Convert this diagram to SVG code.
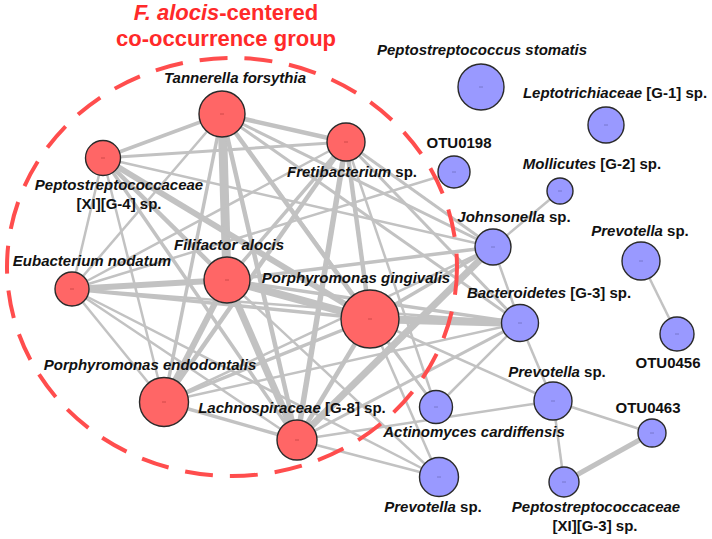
<svg xmlns="http://www.w3.org/2000/svg" width="712" height="539" viewBox="0 0 712 539">
<style>
.e{stroke:#c2c2c2;stroke-linecap:butt;fill:none}
.r circle{fill:#ff6666;stroke:#2a2a2a;stroke-width:1.4}
.b circle{fill:#9999ff;stroke:#2a2a2a;stroke-width:1.4}
.r path{stroke:#d04848;stroke-width:1}
.b path{stroke:#7777cc;stroke-width:1}
text{font-family:"Liberation Sans",Arial,sans-serif;font-weight:bold;font-size:15px;fill:#111;text-anchor:middle}
.i{font-style:italic}
.title{font-size:22px;fill:#ff2a2a}
</style>
<rect width="712" height="539" fill="#fff"/>
<g id="connectors">
<line class="e" x1="222" y1="114" x2="103" y2="158" stroke-width="3.5"/>
<line class="e" x1="222" y1="114" x2="346" y2="142" stroke-width="4.5"/>
<line class="e" x1="222" y1="114" x2="72" y2="289" stroke-width="2.5"/>
<line class="e" x1="222" y1="114" x2="227" y2="280" stroke-width="9"/>
<line class="e" x1="222" y1="114" x2="370" y2="319" stroke-width="4.5"/>
<line class="e" x1="222" y1="114" x2="164" y2="402" stroke-width="3.5"/>
<line class="e" x1="222" y1="114" x2="297" y2="440" stroke-width="4.5"/>
<line class="e" x1="222" y1="114" x2="493" y2="247" stroke-width="3"/>
<line class="e" x1="222" y1="114" x2="520" y2="323" stroke-width="3"/>
<line class="e" x1="222" y1="114" x2="436" y2="407" stroke-width="2.5"/>
<line class="e" x1="103" y1="158" x2="346" y2="142" stroke-width="3"/>
<line class="e" x1="103" y1="158" x2="72" y2="289" stroke-width="2.5"/>
<line class="e" x1="103" y1="158" x2="227" y2="280" stroke-width="4.5"/>
<line class="e" x1="103" y1="158" x2="370" y2="319" stroke-width="6"/>
<line class="e" x1="103" y1="158" x2="164" y2="402" stroke-width="2.5"/>
<line class="e" x1="103" y1="158" x2="297" y2="440" stroke-width="3.5"/>
<line class="e" x1="103" y1="158" x2="493" y2="247" stroke-width="2.5"/>
<line class="e" x1="346" y1="142" x2="72" y2="289" stroke-width="2.5"/>
<line class="e" x1="346" y1="142" x2="227" y2="280" stroke-width="3.5"/>
<line class="e" x1="346" y1="142" x2="370" y2="319" stroke-width="4.5"/>
<line class="e" x1="346" y1="142" x2="164" y2="402" stroke-width="4.5"/>
<line class="e" x1="346" y1="142" x2="297" y2="440" stroke-width="5.5"/>
<line class="e" x1="346" y1="142" x2="493" y2="247" stroke-width="3"/>
<line class="e" x1="346" y1="142" x2="520" y2="323" stroke-width="3"/>
<line class="e" x1="346" y1="142" x2="436" y2="407" stroke-width="2.5"/>
<line class="e" x1="72" y1="289" x2="227" y2="280" stroke-width="6"/>
<line class="e" x1="72" y1="289" x2="370" y2="319" stroke-width="3.5"/>
<line class="e" x1="72" y1="289" x2="164" y2="402" stroke-width="2.5"/>
<line class="e" x1="72" y1="289" x2="297" y2="440" stroke-width="2.5"/>
<line class="e" x1="72" y1="289" x2="520" y2="323" stroke-width="2.5"/>
<line class="e" x1="72" y1="289" x2="439" y2="477" stroke-width="2.5"/>
<line class="e" x1="227" y1="280" x2="370" y2="319" stroke-width="8"/>
<line class="e" x1="227" y1="280" x2="164" y2="402" stroke-width="6"/>
<line class="e" x1="227" y1="280" x2="297" y2="440" stroke-width="7"/>
<line class="e" x1="227" y1="280" x2="493" y2="247" stroke-width="3.5"/>
<line class="e" x1="227" y1="280" x2="520" y2="323" stroke-width="3.5"/>
<line class="e" x1="227" y1="280" x2="439" y2="477" stroke-width="2.5"/>
<line class="e" x1="370" y1="319" x2="164" y2="402" stroke-width="3.5"/>
<line class="e" x1="370" y1="319" x2="297" y2="440" stroke-width="4.5"/>
<line class="e" x1="370" y1="319" x2="493" y2="247" stroke-width="3.5"/>
<line class="e" x1="370" y1="319" x2="520" y2="323" stroke-width="8"/>
<line class="e" x1="370" y1="319" x2="436" y2="407" stroke-width="2.5"/>
<line class="e" x1="370" y1="319" x2="553" y2="401" stroke-width="2.5"/>
<line class="e" x1="370" y1="319" x2="439" y2="477" stroke-width="2.5"/>
<line class="e" x1="164" y1="402" x2="297" y2="440" stroke-width="3.5"/>
<line class="e" x1="164" y1="402" x2="493" y2="247" stroke-width="2.5"/>
<line class="e" x1="164" y1="402" x2="520" y2="323" stroke-width="2.5"/>
<line class="e" x1="297" y1="440" x2="493" y2="247" stroke-width="7"/>
<line class="e" x1="297" y1="440" x2="520" y2="323" stroke-width="3"/>
<line class="e" x1="297" y1="440" x2="553" y2="401" stroke-width="2.5"/>
<line class="e" x1="297" y1="440" x2="439" y2="477" stroke-width="2.5"/>
<line class="e" x1="454" y1="172" x2="72" y2="289" stroke-width="2.5"/>
<line class="e" x1="560" y1="191" x2="493" y2="247" stroke-width="2.5"/>
<line class="e" x1="493" y1="247" x2="520" y2="323" stroke-width="2.5"/>
<line class="e" x1="436" y1="407" x2="520" y2="323" stroke-width="2.5"/>
<line class="e" x1="520" y1="323" x2="553" y2="401" stroke-width="2.5"/>
<line class="e" x1="553" y1="401" x2="652" y2="433" stroke-width="2.5"/>
<line class="e" x1="553" y1="401" x2="564" y2="482" stroke-width="2.5"/>
<line class="e" x1="652" y1="433" x2="564" y2="482" stroke-width="5"/>
<line class="e" x1="641" y1="261" x2="677" y2="334" stroke-width="2.5"/>
</g>
<ellipse id="group-outline" cx="232" cy="267" rx="225" ry="209" fill="none" stroke="#ff4d4d" stroke-width="4" stroke-dasharray="28 17"/>
<g id="n-tannerella" class="r"><circle cx="222" cy="114" r="23"/><path d="M220 114h4"/></g>
<g id="n-pepto-g4" class="r"><circle cx="103" cy="158" r="17.5"/><path d="M101 158h4"/></g>
<g id="n-fretibacterium" class="r"><circle cx="346" cy="142" r="19"/><path d="M344 142h4"/></g>
<g id="n-eubacterium" class="r"><circle cx="72" cy="289" r="17"/><path d="M70 289h4"/></g>
<g id="n-filifactor" class="r"><circle cx="227" cy="280" r="23"/><path d="M225 280h4"/></g>
<g id="n-pgingivalis" class="r"><circle cx="370" cy="319" r="29"/><path d="M368 319h4"/></g>
<g id="n-pendodontalis" class="r"><circle cx="164" cy="402" r="24.5"/><path d="M162 402h4"/></g>
<g id="n-lachno" class="r"><circle cx="297" cy="440" r="20"/><path d="M295 440h4"/></g>
<g id="n-pstomatis" class="b"><circle cx="481" cy="87" r="23"/><path d="M479 87h4"/></g>
<g id="n-lepto" class="b"><circle cx="606" cy="125" r="18"/><path d="M604 125h4"/></g>
<g id="n-otu0198" class="b"><circle cx="454" cy="172" r="16"/><path d="M452 172h4"/></g>
<g id="n-mollicutes" class="b"><circle cx="560" cy="191" r="13"/><path d="M558 191h4"/></g>
<g id="n-johnsonella" class="b"><circle cx="493" cy="247" r="18"/><path d="M491 247h4"/></g>
<g id="n-prevotella-r" class="b"><circle cx="641" cy="261" r="19"/><path d="M639 261h4"/></g>
<g id="n-bacteroidetes" class="b"><circle cx="520" cy="323" r="18.5"/><path d="M518 323h4"/></g>
<g id="n-otu0456" class="b"><circle cx="677" cy="334" r="17"/><path d="M675 334h4"/></g>
<g id="n-actinomyces" class="b"><circle cx="436" cy="407" r="16.5"/><path d="M434 407h4"/></g>
<g id="n-prevotella-m" class="b"><circle cx="553" cy="401" r="19"/><path d="M551 401h4"/></g>
<g id="n-otu0463" class="b"><circle cx="652" cy="433" r="14"/><path d="M650 433h4"/></g>
<g id="n-prevotella-b" class="b"><circle cx="439" cy="477" r="19.5"/><path d="M437 477h4"/></g>
<g id="n-pepto-g3" class="b"><circle cx="564" cy="482" r="15"/><path d="M562 482h4"/></g>
<g id="labels">
<text class="title" x="226" y="20"><tspan class="i">F. alocis</tspan>-centered</text>
<text class="title" x="226" y="46">co-occurrence group</text>
<text class="i" x="235" y="83">Tannerella forsythia</text>
<text class="i" x="119" y="190">Peptostreptococcaceae</text>
<text x="119" y="209">[XI][G-4] sp.</text>
<text x="352" y="177"><tspan class="i">Fretibacterium</tspan> sp.</text>
<text class="i" x="92" y="266">Eubacterium nodatum</text>
<text class="i" x="229" y="250">Filifactor alocis</text>
<text class="i" x="356" y="283">Porphyromonas gingivalis</text>
<text class="i" x="150" y="370">Porphyromonas endodontalis</text>
<text x="292" y="413"><tspan class="i">Lachnospiraceae</tspan> [G-8] sp.</text>
<text class="i" x="482" y="55">Peptostreptococcus stomatis</text>
<text x="615" y="98"><tspan class="i">Leptotrichiaceae</tspan> [G-1] sp.</text>
<text x="459" y="148">OTU0198</text>
<text x="592" y="169"><tspan class="i">Mollicutes</tspan> [G-2] sp.</text>
<text x="514" y="222"><tspan class="i">Johnsonella</tspan> sp.</text>
<text x="640" y="236"><tspan class="i">Prevotella</tspan> sp.</text>
<text x="549" y="298"><tspan class="i">Bacteroidetes</tspan> [G-3] sp.</text>
<text x="668" y="368">OTU0456</text>
<text x="557" y="377"><tspan class="i">Prevotella</tspan> sp.</text>
<text x="648" y="413">OTU0463</text>
<text class="i" x="474" y="437">Actinomyces cardiffensis</text>
<text x="433" y="512"><tspan class="i">Prevotella</tspan> sp.</text>
<text class="i" x="596" y="512">Peptostreptococcaceae</text>
<text x="595" y="531">[XI][G-3] sp.</text>
</g>
</svg>
